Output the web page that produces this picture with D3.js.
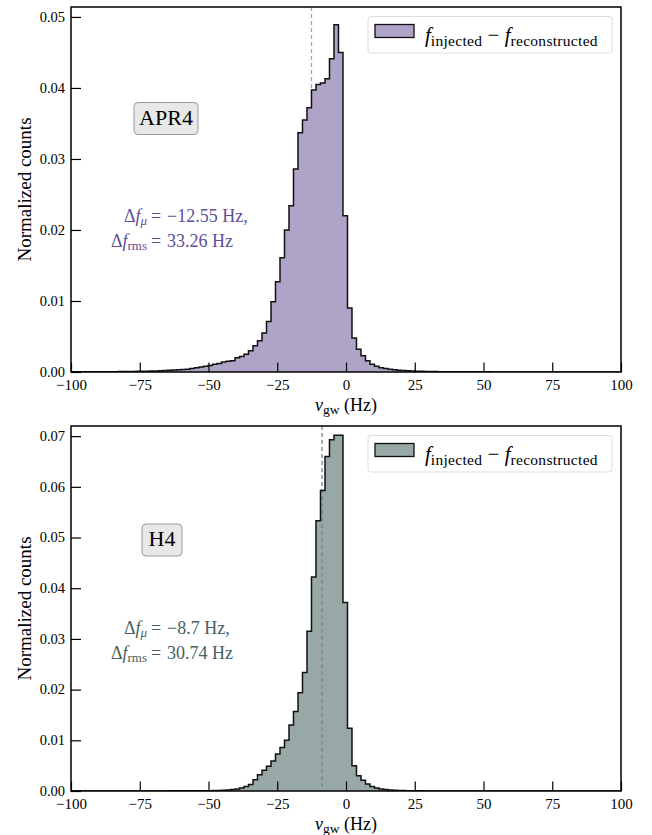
<!DOCTYPE html>
<html>
<head>
<meta charset="utf-8">
<script src="https://cdn.jsdelivr.net/npm/d3@7"></script>
<style>
  html,body{margin:0;padding:0;background:#fff;}
  svg text{font-family:"Liberation Serif","DejaVu Serif",serif;}
</style>
</head>
<body>
<svg id="chart" width="652" height="835"></svg>
<script>
// histogram bins (Hz)
const bin_first_edge=-102.53;
const bin_width=1.636;

// APR4 normalized counts, one per bin from -102.5 Hz upward
const apr4_counts=[
  0.00001,0.00002,0.00002,0.00002,0.00002,0.00003,0.00003,0.00003,0.00004,0.00004,0.00005,0.00005,
  0.00006,0.00006,0.00007,0.00008,0.00009,0.0001,0.00011,0.00013,0.00015,0.00018,
  0.0002,0.00024,0.00027,0.0003,0.00036,0.0004,0.0005,0.0006,0.0007,0.0008,
  0.0009,0.0011,0.0012,0.0014,0.0015,0.0016,0.0020,0.0022,0.0025,0.0030,
  0.0037,0.0044,0.0055,0.0071,0.0099,0.0127,0.0161,0.0200,0.0234,0.0286,
  0.0337,0.0355,0.0372,0.0397,0.0405,0.0407,0.0413,0.0441,0.0489,0.0450,
  0.0220,0.0090,0.0048,0.0032,0.0023,0.0016,0.0011,0.0008,0.0006,0.0005,
  0.0004,0.0003,0.00025,0.0002,0.00016,0.00013,0.00011,0.0001,0.00008,0.00007,
  0.00006,0.00005,0.00005,0.00004,0.00004,0.00003,0.00003,0.00003,0.00002,0.00002,
  0.00002,0.00002,0.00002,0.00001,0.00001,0.00001,0.00001,0.00001,0.00001,0.00001,
  0.00001,0.00001,0.00001,0.00001,0.00001,0.00001,0.00001,0.00001,0.00001,0.00001,
  0.00001,0.00001,0.00001,0.00001,0.00001,0.00001,0.00001,0.00001,0.00001,0.00001,0.00001,0.00001
];

// H4 normalized counts, same bins
const h4_counts=[
  0,0,0,0,0,0,0,0,0,0,0,0,
  0,0,0,0,0,0,0,0.00001,0.00001,0.00002,
  0.00002,0.00003,0.00004,0.00004,0.00005,0.00005,0.00006,0.00006,0.00007,0.00007,
  0.00005,0.00008,0.0001,0.00015,0.0002,0.0003,0.0004,0.0006,0.0009,0.0013,
  0.0022,0.0032,0.0041,0.0049,0.0059,0.0073,0.0086,0.0100,0.0130,0.0157,
  0.0194,0.0234,0.0315,0.0422,0.0533,0.0593,0.0660,0.0693,0.0702,0.0702,
  0.0372,0.0124,0.0050,0.0030,0.0021,0.0014,0.0009,0.0006,0.0004,0.0003,
  0.0002,0.00015,0.0001,0.00008,0.00006,0.00005,0.00004,0.00003,0.00002,0.00002,
  0.00001,0.00001,0.00001,0.00001,0.00001,0.00001,0,0,0,0,
  0,0,0,0,0,0,0,0,0,0,
  0,0,0,0,0,0,0,0,0,0,
  0,0,0,0,0,0,0,0,0,0,0,0
];

const x_ticks=[-100,-75,-50,-25,0,25,50,75,100];
const apr4_y_ticks=[0,0.01,0.02,0.03,0.04,0.05];
const h4_y_ticks=[0,0.01,0.02,0.03,0.04,0.05,0.06,0.07];

const panels=[
  {name:"APR4",counts:apr4_counts,y_ticks:apr4_y_ticks,y_max:0.0514,mean:-12.55,rms:"33.26",mean_txt:"−12.55",
   top:7,bottom:372,fill:"#afa3c7",line_color:"#a99cd0",text_color:"#5d4f97",label_x:134,label_w:64,label_dy:95.5,note_dy:214.5},
  {name:"H4",counts:h4_counts,y_ticks:h4_y_ticks,y_max:0.0720,mean:-8.7,rms:"30.74",mean_txt:"−8.7",
   top:426,bottom:791,fill:"#97a8a6",line_color:"#6f8886",text_color:"#48605e",label_x:142,label_w:40,label_dy:98,note_dy:207.5}
];

const svg=d3.select("#chart");
const left=71, right=621;
const x=d3.scaleLinear().domain([-100,100]).range([left,right]);

panels.forEach((p,pi)=>{
  const g=svg.append("g");
  const y=d3.scaleLinear().domain([0,p.y_max]).range([p.bottom,p.top]);

  const clip_id="clip"+pi;
  g.append("clipPath").attr("id",clip_id)
    .append("rect").attr("x",left).attr("y",p.top).attr("width",right-left).attr("height",p.bottom-p.top);

  // bins -> step points
  const pts=p.counts.map((v,i)=>({x0:bin_first_edge+i*bin_width,v:v}));
  pts.push({x0:bin_first_edge+p.counts.length*bin_width,v:p.counts[p.counts.length-1]});

  const area=d3.area().curve(d3.curveStepAfter)
    .x(d=>x(d.x0)).y0(y(0)).y1(d=>y(d.v));
  const line=d3.line().curve(d3.curveStepAfter)
    .x(d=>x(d.x0)).y(d=>y(d.v));

  const hist=g.append("g").attr("clip-path","url(#"+clip_id+")");
  hist.append("path").attr("d",area(pts)).attr("fill",p.fill).attr("stroke","none");

  // mean line (dashed)
  hist.append("line")
    .attr("x1",x(p.mean)).attr("x2",x(p.mean))
    .attr("y1",p.top).attr("y2",p.bottom)
    .attr("stroke",p.line_color).attr("stroke-width",1.3)
    .attr("stroke-dasharray","4,3");

  hist.append("path").attr("d",line(pts)).attr("fill","none")
    .attr("stroke","#111").attr("stroke-width",1.5);

  // x axis (ticks inside)
  const xa=g.append("g").attr("transform","translate(0,"+p.bottom+")")
    .call(d3.axisBottom(x).tickValues(x_ticks).tickSizeInner(-9.5).tickSizeOuter(0).tickPadding(6)
      .tickFormat(d=>d<0?"−"+Math.abs(d):d));
  xa.select(".domain").remove();
  xa.selectAll(".tick line").attr("stroke","#000").attr("stroke-width",1.2);
  xa.selectAll(".tick text").attr("font-size",15).attr("fill","#000")
    .attr("font-family","Liberation Serif, DejaVu Serif, serif").attr("dy","0.78em");

  // y axis
  const ya=g.append("g").attr("transform","translate("+left+",0)")
    .call(d3.axisLeft(y).tickValues(p.y_ticks).tickSizeInner(-10).tickSizeOuter(0).tickPadding(6)
      .tickFormat(d3.format(".2f")));
  ya.select(".domain").remove();
  ya.selectAll(".tick line").attr("stroke","#000").attr("stroke-width",1.2);
  ya.selectAll(".tick text").attr("font-size",14.5).attr("fill","#000")
    .attr("font-family","Liberation Serif, DejaVu Serif, serif").attr("dy","0.3em");

  // frame
  g.append("rect").attr("x",left).attr("y",p.top).attr("width",right-left).attr("height",p.bottom-p.top)
    .attr("fill","none").attr("stroke","#000").attr("stroke-width",1.5);

  // axis titles
  const xt=g.append("text").attr("x",x(0)).attr("y",p.bottom+38.5).attr("text-anchor","middle")
    .attr("font-size",18).attr("fill","#000");
  xt.append("tspan").attr("font-style","italic").text("ν");
  xt.append("tspan").attr("font-size",13.5).attr("dy",3.5).text("gw");
  xt.append("tspan").attr("dy",-3.5).text(" (Hz)");

  g.append("text")
    .attr("transform","translate(31,"+((p.top+p.bottom)/2)+") rotate(-90)")
    .attr("text-anchor","middle").attr("font-size",19).attr("fill","#000")
    .text("Normalized counts");

  // legend
  const lg=g.append("g").attr("transform","translate(368,"+(p.top+9.5)+")");
  lg.append("rect").attr("width",244).attr("height",36.5).attr("rx",3)
    .attr("fill","#fff").attr("stroke","#ddd").attr("stroke-width",1);
  lg.append("rect").attr("x",7).attr("y",8).attr("width",39).attr("height",13)
    .attr("fill",p.fill).attr("stroke","#111").attr("stroke-width",1.3);
  const lt=lg.append("text").attr("x",57).attr("y",25.5).attr("font-size",21).attr("fill","#000");
  lt.append("tspan").attr("font-style","italic").text("f");
  lt.append("tspan").attr("font-size",15.5).attr("letter-spacing",0.3).attr("dy",4).text("injected");
  lt.append("tspan").attr("dy",-4).attr("letter-spacing",0).text(" − ");
  lt.append("tspan").attr("font-style","italic").text("f");
  lt.append("tspan").attr("font-size",15.5).attr("letter-spacing",0.3).attr("dy",4).text("reconstructed");

  // EOS label box
  const by=p.top+p.label_dy;
  svg.append("rect").attr("x",p.label_x).attr("y",by).attr("width",p.label_w).attr("height",32).attr("rx",4)
    .attr("fill","#e8e8e8").attr("stroke","#9a9a9a").attr("stroke-width",1);
  svg.append("text").attr("x",p.label_x+p.label_w/2).attr("y",by+22).attr("text-anchor","middle")
    .attr("font-size",22).attr("fill","#000").text(p.name);

  // mean / rms annotation, aligned at "="
  const eq_x=156, l1=p.top+p.note_dy;
  const rows=[{sub:"μ",val:p.mean_txt+" Hz,"},{sub:"rms",val:p.rms+" Hz"}];
  rows.forEach((r,ri)=>{
    const yy=l1+ri*25;
    const a=g.append("text").attr("x",eq_x-9).attr("y",yy).attr("text-anchor","end")
      .attr("font-size",18).attr("fill",p.text_color);
    a.append("tspan").text("Δ");
    a.append("tspan").attr("font-style","italic").text("f");
    a.append("tspan").attr("font-size",13).attr("dy",3.5).attr("font-style",ri===0?"italic":"normal").text(r.sub);
    g.append("text").attr("x",eq_x).attr("y",yy).attr("text-anchor","middle")
      .attr("font-size",18).attr("fill",p.text_color).text("=");
    g.append("text").attr("x",eq_x+11).attr("y",yy)
      .attr("font-size",18).attr("fill",p.text_color).text(r.val);
  });
});
</script>
</body>
</html>
